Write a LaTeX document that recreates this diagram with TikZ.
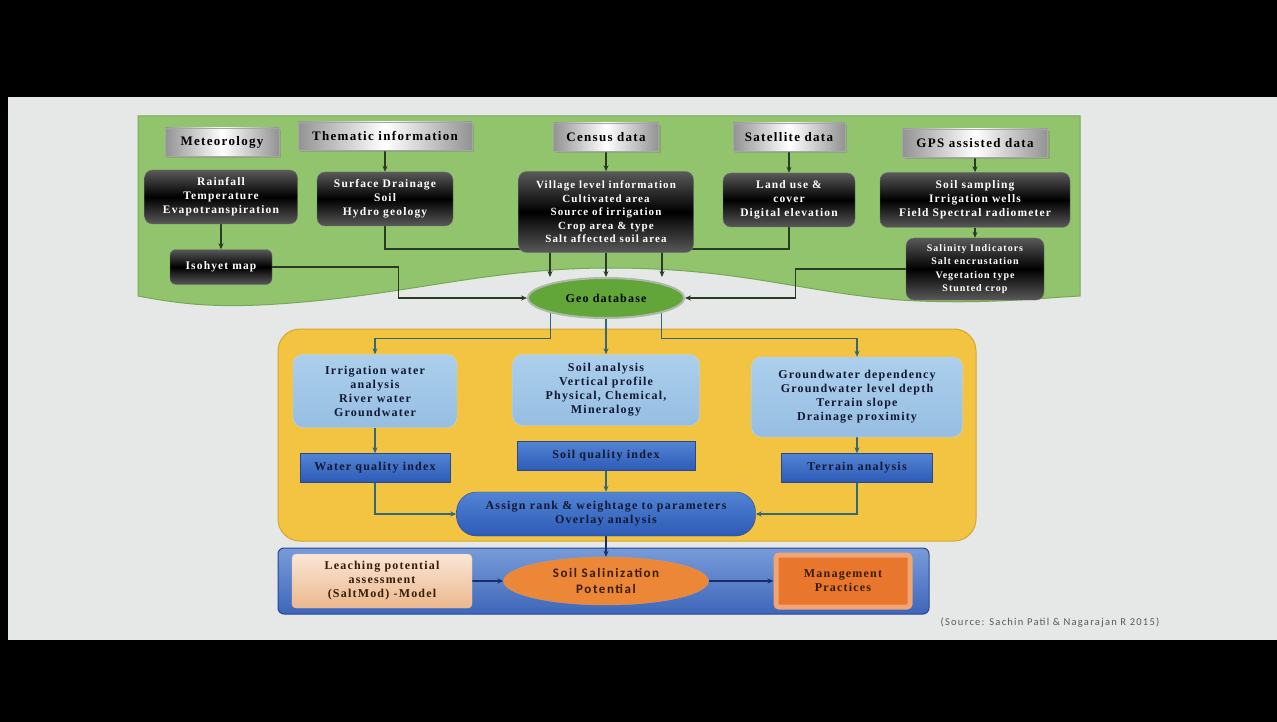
\documentclass[tikz,border=0pt]{standalone}
\usepackage{fontspec}
\setmainfont{Liberation Serif}[LetterSpace=10]
\newfontfamily\calib{Carlito}[LetterSpace=12]
\usepackage{xcolor}
\usetikzlibrary{shapes.geometric,shadows,arrows.meta,calc}

\definecolor{slide}{RGB}{229,232,231}
\definecolor{leaf}{RGB}{145,196,108}
\definecolor{leafline}{RGB}{118,168,88}
\definecolor{wirecol}{RGB}{40,60,35}
\definecolor{geofill}{RGB}{98,166,58}
\definecolor{geoline}{RGB}{175,185,170}
\definecolor{gold}{RGB}{242,196,66}
\definecolor{goldline}{RGB}{212,168,48}
\definecolor{tealcol}{RGB}{50,105,120}
\definecolor{paletop}{RGB}{172,207,236}
\definecolor{palebot}{RGB}{150,190,226}
\definecolor{paleline}{RGB}{192,216,236}
\definecolor{deeptop}{RGB}{82,132,212}
\definecolor{deepbot}{RGB}{45,90,182}
\definecolor{deepline}{RGB}{40,70,150}
\definecolor{ink}{RGB}{18,24,50}
\definecolor{seatop}{RGB}{120,156,216}
\definecolor{seabot}{RGB}{62,102,186}
\definecolor{navy}{RGB}{25,45,110}
\definecolor{peachtop}{RGB}{250,230,214}
\definecolor{peachbot}{RGB}{236,184,142}
\definecolor{peachline}{RGB}{228,200,180}
\definecolor{rust}{RGB}{235,135,55}
\definecolor{rustline}{RGB}{215,150,95}
\definecolor{mgmtfill}{RGB}{232,118,45}
\definecolor{mgmtline}{RGB}{240,165,115}
\definecolor{brown}{RGB}{55,28,5}

\pgfdeclarelayer{back}
\pgfdeclarelayer{wires}
\pgfsetlayers{back,wires,main}

\tikzset{
  header/.style={draw=gray!70, left color=gray!85, right color=gray!85, middle color=white,
    minimum height=28pt, inner sep=0pt, font=\bfseries\fontsize{13}{15}\selectfont,
    drop shadow={shadow xshift=2pt, shadow yshift=-2pt, opacity=.4}},
  darkbox/.style={draw=black!55, rounded corners=8pt, top color=black!65, bottom color=black!65,
    middle color=black, text=white, align=center, inner sep=0pt,
    font=\bfseries\fontsize{11.5}{14}\selectfont},
  palebox/.style={draw=paleline, rounded corners=10pt, top color=paletop, bottom color=palebot,
    text=ink, align=center, inner sep=0pt, font=\bfseries\fontsize{12}{14}\selectfont},
  deepbox/.style={draw=deepline, top color=deeptop, bottom color=deepbot, text=ink, align=center,
    minimum height=29pt, inner sep=0pt, font=\bfseries\fontsize{12}{14}\selectfont},
  wire/.style={draw=wirecol, line width=1.2pt, -{Stealth[length=6pt,width=5pt]}},
  twire/.style={draw=tealcol, line width=1.2pt, -{Stealth[length=6pt,width=5pt]}},
  nwire/.style={draw=navy, line width=1.3pt, -{Stealth[length=6pt,width=5pt]}}
}

\begin{document}
\begin{tikzpicture}[x=1pt,y=-1pt]

\begin{pgfonlayer}{back}
\fill[black] (0,0) rectangle (1277,722);
\fill[slide] (8,97) rectangle (1277,640);
\draw[fill=leaf, draw=leafline, line width=1pt] (138,116) -- (1080,116) -- (1080,296)
  .. controls (1040,298) and (980,305) .. (900,300)
  .. controls (800,292) and (740,268) .. (610,268)
  .. controls (480,268) and (400,298) .. (260,305)
  .. controls (210,307) and (180,304) .. (138,296) -- cycle;
\draw[fill=gold, draw=goldline, line width=1pt, rounded corners=22pt] (278,329) rectangle (976,541);
\draw[top color=seatop, bottom color=seabot, draw=deepline, line width=1pt, rounded corners=6pt] (278,548) rectangle (929,614);
\end{pgfonlayer}

\node[header, minimum width=114pt] (met) at (222,142) {Meteorology};
\node[header, minimum width=174pt] (them) at (385,136) {Thematic information};
\node[header, minimum width=105pt] (cens) at (606,137) {Census data};
\node[header, minimum width=112pt] (sat) at (789,137) {Satellite data};
\node[header, minimum width=145pt] (gps) at (975,143) {GPS assisted data};

\node[darkbox, minimum width=153pt, minimum height=54pt] (rain) at (221,197) {Rainfall\\Temperature\\Evapotranspiration};
\node[darkbox, minimum width=136pt, minimum height=54pt] (surf) at (385,199) {Surface Drainage\\Soil\\Hydro geology};
\node[darkbox, minimum width=175pt, minimum height=81pt, font=\bfseries\fontsize{11}{13.5}\selectfont] (vill) at (606,212)
  {Village level information\\Cultivated area\\Source of irrigation\\Crop area \& type\\Salt affected soil area};
\node[darkbox, minimum width=132pt, minimum height=54pt] (land) at (789,200) {Land use \&\\cover\\Digital elevation};
\node[darkbox, minimum width=190pt, minimum height=55pt] (samp) at (975,200) {Soil sampling\\Irrigation wells\\Field Spectral radiometer};
\node[darkbox, rounded corners=6pt, minimum width=102pt, minimum height=35pt] (iso) at (221,267) {Isohyet map};
\node[darkbox, minimum width=138pt, minimum height=62pt, font=\bfseries\fontsize{10}{13.5}\selectfont] (sal) at (975,269)
  {Salinity Indicators\\Salt encrustation\\Vegetation type\\Stunted crop};

\node[ellipse, draw=geoline, line width=2pt, fill=geofill, minimum width=156pt, minimum height=40pt, inner sep=0pt,
  font=\bfseries\fontsize{12}{14}\selectfont] (geo) at (606,298) {Geo database};

\node[palebox, minimum width=164pt, minimum height=73pt] (irr) at (375,391) {Irrigation water\\analysis\\River water\\Groundwater};
\node[palebox, minimum width=187pt, minimum height=71pt] (soil) at (606,390) {Soil analysis\\Vertical profile\\Physical, Chemical,\\Mineralogy};
\node[palebox, minimum width=211pt, minimum height=80pt] (gw) at (857,397)
  {Groundwater dependency\\Groundwater level depth\\Terrain slope\\Drainage proximity};
\node[deepbox, minimum width=150pt] (wqi) at (375,468) {Water quality index};
\node[deepbox, minimum width=178pt] (sqi) at (606,456) {Soil quality index};
\node[deepbox, minimum width=151pt] (terr) at (857,468) {Terrain analysis};
\node[deepbox, rounded corners=20pt, minimum width=299pt, minimum height=44pt] (rank) at (606,514)
  {Assign rank \& weightage to parameters\\Overlay analysis};

\node[draw=peachline, rounded corners=4pt, top color=peachtop, bottom color=peachbot, text=brown, align=center,
  minimum width=180pt, minimum height=54pt, inner sep=0pt, font=\bfseries\fontsize{12}{14}\selectfont] (leach) at (382,581)
  {Leaching potential\\assessment\\(SaltMod) -Model};
\node[ellipse, draw=rustline, fill=rust, text=brown, align=center, minimum width=205pt, minimum height=48pt, inner sep=0pt,
  font=\calib\bfseries\fontsize{13}{16}\selectfont] (ssp) at (606,581) {Soil Salinization\\Potential};
\node[draw=mgmtline, line width=5pt, fill=mgmtfill, rounded corners=3pt, text=brown, align=center,
  minimum width=134pt, minimum height=52pt, inner sep=0pt, font=\bfseries\fontsize{12}{14}\selectfont] (mgmt) at (843,581)
  {Management\\Practices};

\node[text=black!65, font=\calib\fontsize{10.5}{12}\selectfont] (src) at (1050,623) {(Source: Sachin Patil \& Nagarajan R 2015)};

\begin{pgfonlayer}{wires}
\draw[wire] (them) -- (surf);
\draw[wire] (cens) -- (vill);
\draw[wire] (sat) -- (land);
\draw[wire] (gps) -- (samp);
\draw[wire] (samp) -- (sal);
\draw[wire] (rain) -- (iso);
\draw[wire] (vill) -- (geo);
\draw[wire] (surf.south) |- ($(geo.north)+(-56,-28)$) -- ($(geo.north)+(-56,0)$);
\draw[wire] (land.south) |- ($(geo.north)+(56,-28)$) -- ($(geo.north)+(56,0)$);
\draw[wire] (iso.east) -- ++(126,0) |- (geo.west);
\draw[wire] (sal.west) -- ++(-110,0) |- (geo.east);

\draw[twire] (geo.south west) -- ++(0,26) -| (irr.north);
\draw[twire] (geo) -- (soil);
\draw[twire] (geo.south east) -- ++(0,26) -| (gw.north);
\draw[twire] (irr) -- (wqi);
\draw[twire] (gw) -- (terr);
\draw[twire] (sqi) -- (rank);
\draw[twire] (wqi.south) |- (rank.west);
\draw[twire] (terr.south) |- (rank.east);

\draw[nwire] (rank) -- (ssp);
\draw[nwire] (leach) -- (ssp);
\draw[nwire] (ssp) -- (mgmt);
\end{pgfonlayer}

\end{tikzpicture}
\end{document}
